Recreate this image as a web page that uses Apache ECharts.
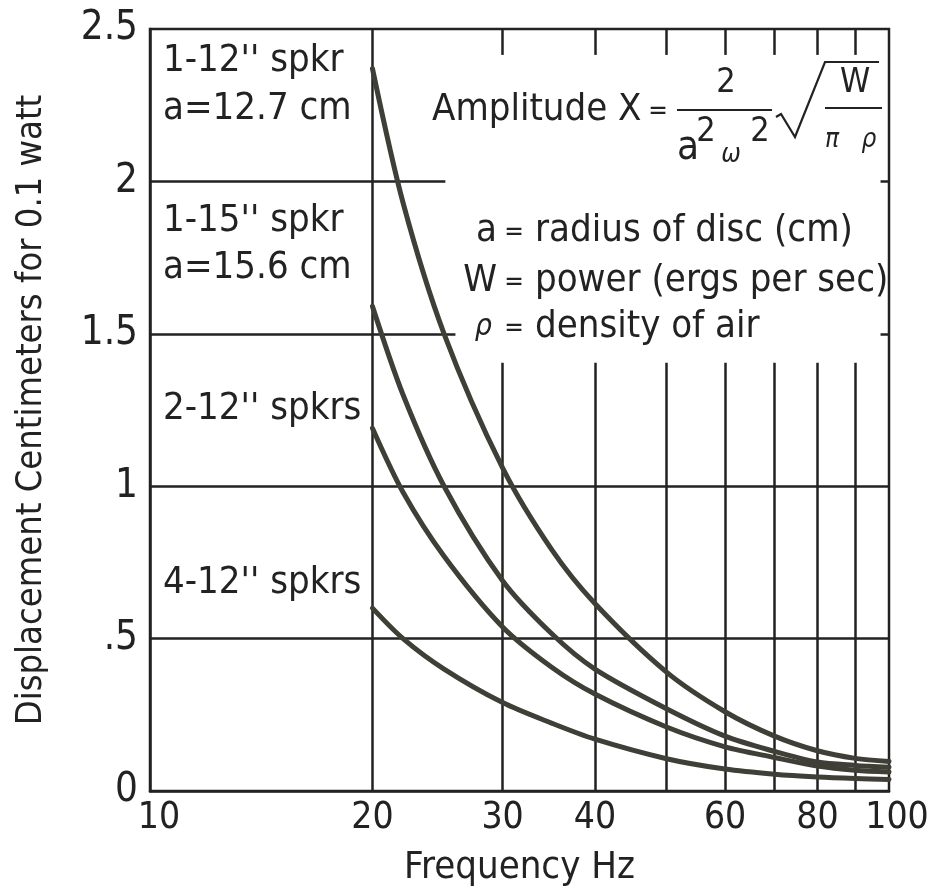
<!DOCTYPE html>
<html>
<head>
<meta charset="utf-8">
<script src="https://cdn.jsdelivr.net/npm/echarts@6/dist/echarts.min.js"></script>
<style>
html,body{margin:0;padding:0;background:#fff;}
#chart{width:937px;height:894px;}
</style>
</head>
<body>
<div id="chart"></div>
<script>
// ---- data ----
const freqHz      = [20, 22, 25, 30, 35, 40, 50, 60, 70, 80, 90, 100];
const spkr1x12    = [2.37, 1.93, 1.50, 1.06, 0.79, 0.615, 0.39, 0.26, 0.18, 0.132, 0.107, 0.097];
const spkr1x15    = [1.59, 1.30, 1.00, 0.69, 0.515, 0.40, 0.27, 0.18, 0.13, 0.095, 0.084, 0.078];
const spkr2x12    = [1.19, 0.98, 0.77, 0.538, 0.405, 0.318, 0.21, 0.145, 0.11, 0.082, 0.068, 0.062];
const spkr4x12    = [0.60, 0.50, 0.40, 0.29, 0.222, 0.170, 0.106, 0.072, 0.055, 0.046, 0.041, 0.038];
const xTickLabels = [10, 20, 30, 40, 60, 80, 100];
const yTickValues = [0, 0.5, 1, 1.5, 2, 2.5];
const yTickLabels = ['0', '.5', '1', '1.5', '2', '2.5'];
const curveNames  = ["1-12'' spkr", "1-15'' spkr", "2-12'' spkrs", "4-12'' spkrs"];

// ---- styling ----
const FONT = "'Liberation Sans Narrow', 'DejaVu Sans Condensed', 'Liberation Sans', sans-serif";
const INK = '#222222';
const CURVE = '#3f3f38';

const chart = echarts.init(document.getElementById('chart'), null, {renderer: 'canvas'});

function seg(x1, y1, x2, y2) { return [{coord: [x1, y1]}, {coord: [x2, y2]}]; }

// grid segments (partial grid as in the reference)
const gridSegs = [
  seg(20, 0, 20, 2.5),
  seg(10, 0.5, 100, 0.5),
  seg(10, 1.0, 100, 1.0),
  seg(10, 1.5, 25.9, 1.5),
  seg(10, 2.0, 25.1, 2.0),
  seg(97.4, 1.5, 100, 1.5),
  seg(97.4, 2.0, 100, 2.0)
];
[30, 40, 50, 60, 70, 80, 90].forEach(f => {
  gridSegs.push(seg(f, 0, f, 1.405));
  gridSegs.push(seg(f, 2.5, f, 2.415));
});

const curves = [spkr1x12, spkr1x15, spkr2x12, spkr4x12];
const series = curves.map((vals, k) => ({
  name: curveNames[k],
  type: 'line',
  data: freqHz.map((f, i) => [f, vals[i]]),
  smooth: 0.3,
  showSymbol: false,
  symbol: 'none',
  z: 5,
  lineStyle: {color: CURVE, width: 5, cap: 'round', join: 'round'}
}));
series.push({
  name: 'grid',
  type: 'line',
  data: [],
  z: 2,
  silent: true,
  markLine: {
    silent: true,
    symbol: ['none', 'none'],
    label: {show: false},
    emphasis: {disabled: true},
    animation: false,
    lineStyle: {color: INK, width: 2.5, type: 'solid'},
    data: gridSegs
  }
});

function txt(text, x, y, size, opts) {
  opts = opts || {};
  return {
    type: 'text', z: 10, silent: true,
    style: {
      text: text, x: x, y: y,
      fontSize: size, fontFamily: FONT,
      fontStyle: opts.italic ? 'italic' : 'normal',
      fill: INK,
      align: opts.align || 'left',
      verticalAlign: 'middle'
    }
  };
}
function ln(points, w) {
  return {type: 'polyline', z: 10, silent: true,
          shape: {points: points}, style: {stroke: INK, lineWidth: w || 2, fill: null}};
}

const graphics = [
  // left labels
  txt(curveNames[0], 163, 61, 38),
  txt('a=12.7 cm', 163, 109, 38),
  txt(curveNames[1], 163, 221, 38),
  txt('a=15.6 cm', 163, 268, 38),
  txt(curveNames[2], 163, 409, 38),
  txt(curveNames[3], 163, 583, 38),
  // formula
  txt('Amplitude X', 432, 110, 38),
  txt('=', 658, 112, 26, {align: 'center'}),
  txt('2', 726, 83, 34, {align: 'center'}),
  ln([[677, 110], [772, 110]], 2.2),
  txt('a', 677, 149, 40),
  txt('2', 706, 132, 34, {align: 'center'}),
  txt('ω', 731, 155, 26, {italic: true, align: 'center'}),
  txt('2', 760, 132, 34, {align: 'center'}),
  ln([[776, 117], [781, 114], [795, 137], [825, 62], [879, 62]], 2.2),
  txt('W', 855, 83, 34, {align: 'center'}),
  ln([[825, 108], [882, 108]], 2.2),
  txt('π', 832, 140, 26, {italic: true, align: 'center'}),
  txt('ρ', 869, 140, 26, {italic: true, align: 'center'}),
  // legend of symbols
  txt('a', 497, 231, 38, {align: 'right'}),
  txt('=', 514, 233, 26, {align: 'center'}),
  txt('radius of disc (cm)', 535, 231, 38),
  txt('W', 497, 281, 38, {align: 'right'}),
  txt('=', 514, 283, 26, {align: 'center'}),
  txt('power (ergs per sec)', 535, 281, 38),
  txt('ρ', 492, 327, 30, {align: 'right', italic: true}),
  txt('=', 514, 329, 26, {align: 'center'}),
  txt('density of air', 535, 327, 38)
];

const option = {
  animation: false,
  backgroundColor: '#ffffff',
  grid: {left: 150, right: 48, top: 29, bottom: 103, show: true,
         borderColor: INK, borderWidth: 2.5, backgroundColor: 'transparent'},
  xAxis: {
    type: 'log', logBase: 10, min: 10, max: 100,
    name: 'Frequency Hz', nameLocation: 'middle', nameGap: 58,
    nameTextStyle: {fontSize: 38, fontFamily: FONT, color: INK},
    axisLine: {show: true, lineStyle: {color: INK, width: 2.5}},
    axisTick: {show: false},
    splitLine: {show: false},
    minorTick: {show: false},
    axisLabel: {
      customValues: xTickLabels,
      fontSize: 37, fontFamily: FONT, color: INK, margin: 9,
      formatter: v => {
        const n = Math.round(v);
        if (n === xTickLabels[0]) return '{lo|' + n + '}';
        if (n === xTickLabels[xTickLabels.length - 1]) return '{hi|' + n + '}';
        return String(n);
      },
      rich: {
        lo: {fontSize: 37, fontFamily: FONT, color: INK, padding: [0, 0, 0, 18]},
        hi: {fontSize: 37, fontFamily: FONT, color: INK, padding: [0, 0, 0, 16]}
      }
    }
  },
  yAxis: {
    type: 'value', min: 0, max: 2.5, interval: 0.5,
    name: 'Displacement Centimeters for 0.1 watt', nameLocation: 'middle', nameGap: 100,
    nameTextStyle: {fontSize: 36, fontFamily: FONT, color: INK},
    axisLine: {show: true, lineStyle: {color: INK, width: 2.5}},
    axisTick: {show: false},
    splitLine: {show: false},
    axisLabel: {
      fontSize: 40, fontFamily: FONT, color: INK, margin: 12,
      formatter: v => {
        const i = yTickValues.findIndex(t => Math.abs(t - v) < 1e-6);
        return i >= 0 ? yTickLabels[i] : '';
      }
    }
  },
  series: series,
  graphic: graphics
};
chart.setOption(option);
</script>
</body>
</html>
